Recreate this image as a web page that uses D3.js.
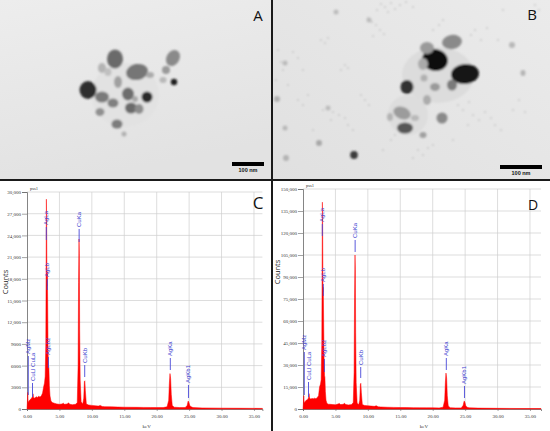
<!DOCTYPE html>
<html><head><meta charset="utf-8">
<script src="https://cdn.jsdelivr.net/npm/d3@7"></script>
<style>body{margin:0;background:#fff}svg{display:block}</style>
</head><body>
<script>
// ---------- DATA ----------
// EDS spectrum C: [keV, counts]
const spectrumC = [[0,0],[0.05,800],[0.12,2300],[0.18,900],[0.3,1100],[0.5,1300],[0.7,1500],[0.85,1700],[0.93,2100],[1.0,1600],[1.2,1500],[1.4,1700],[1.6,1600],[1.8,1750],[2.0,1650],[2.2,1800],[2.4,2200],[2.55,3000],[2.7,3600],[2.8,4500],[2.9,9000],[2.96,22000],[2.99,29000],[3.03,26000],[3.08,17000],[3.13,19000],[3.18,15500],[3.25,8000],[3.32,6000],[3.38,5600],[3.45,3200],[3.55,1800],[3.7,1100],[3.9,900],[4.2,800],[4.6,700],[5.0,650],[5.4,700],[5.6,800],[5.8,650],[6.2,700],[6.4,850],[6.6,650],[7.0,600],[7.5,650],[7.75,900],[7.88,6000],[7.95,17500],[8.02,23500],[8.07,21500],[8.12,11000],[8.2,4000],[8.35,1000],[8.6,700],[8.75,1500],[8.85,3800],[8.92,3900],[9.0,2500],[9.15,700],[9.5,550],[10,500],[10.5,450],[11,400],[11.3,500],[11.6,350],[12,320],[13,300],[14,270],[15,250],[16,240],[17,230],[18,220],[19,210],[20,200],[21,200],[21.6,300],[21.85,1200],[21.95,3500],[22.05,4900],[22.15,4200],[22.25,2000],[22.4,500],[22.7,250],[23.5,200],[24.4,200],[24.7,500],[24.85,1100],[24.95,950],[25.1,500],[25.3,300],[25.6,200],[27,150],[30,120],[33,100],[36.3,80]];
// EDS spectrum D: [keV, counts]
const spectrumD = [[0,0],[0.05,3000],[0.12,9000],[0.18,4000],[0.3,5000],[0.5,6000],[0.7,6500],[0.85,7500],[0.93,10500],[1.0,7500],[1.2,6800],[1.4,7200],[1.6,7000],[1.8,7400],[2.0,7000],[2.2,7800],[2.4,9000],[2.55,15000],[2.7,17000],[2.8,20000],[2.9,45000],[2.96,110000],[2.99,141000],[3.03,125000],[3.08,80000],[3.13,83000],[3.18,62000],[3.25,35000],[3.32,23000],[3.38,21500],[3.45,12000],[3.55,6000],[3.7,3800],[3.9,3300],[4.2,3200],[4.6,3000],[5.0,2900],[5.4,3400],[5.6,3800],[5.8,3000],[6.2,3200],[6.4,3900],[6.6,3000],[7.0,2800],[7.5,3000],[7.75,4500],[7.88,25000],[7.95,76000],[8.02,105000],[8.07,95000],[8.12,52000],[8.2,18000],[8.35,4000],[8.6,3000],[8.75,6000],[8.85,17000],[8.92,17500],[9.0,11000],[9.15,3000],[9.5,2400],[10,2200],[10.5,2000],[11,1800],[11.3,2200],[11.6,1500],[12,1400],[13,1200],[14,1100],[15,1000],[16,950],[17,900],[18,850],[19,800],[20,780],[21,760],[21.6,1200],[21.85,6000],[21.95,18000],[22.05,24500],[22.15,21000],[22.25,9000],[22.4,2000],[22.7,900],[23.5,750],[24.4,750],[24.7,2500],[24.85,5500],[24.95,4800],[25.1,2200],[25.3,1200],[25.6,800],[27,600],[30,450],[33,350],[36.7,300]];
// peak labels: [keV, name, marker low (counts), marker high (counts)]
const labelsC = [[0.2,"AgMz",1935,7330],[0.85,"CuLl CuLa",1660,3600],[2.98,"AgLa",23360,25160],[3.13,"AgLb",16450,17970],[3.3,"AgLb2",5670,7190],[8.04,"CuKa",23090,24890],[8.9,"CuKb",4420,6080],[22.1,"AgKa",5390,7050],[24.9,"AgKb1",1520,3320]];
const labelsD = [[0.2,"AgMz",9545,38860],[0.85,"CuLl CuLa",8180,18410],[2.98,"AgLa",117950,126140],[3.13,"AgLb",77050,85230],[3.3,"AgLb2",25230,34090],[8.04,"CuKa",107050,115230],[8.9,"CuKb",21140,28640],[22.1,"AgKa",26590,34770],[24.9,"AgKb1",7500,15680]];
const yTicksC = [0,3000,6000,9000,12000,15000,18000,21000,24000,27000,30000];
const yTicksD = [0,15000,30000,45000,60000,75000,90000,105000,120000,135000,150000];
const xTicks = [0,5,10,15,20,25,30,35];
// TEM micrographs: particles [x, y, rx, ry, rotation, grey] in micrograph units
const particlesA = [[125,95,34,32,0,"#e2e2e2"],[88,90,8.5,9,0,"#2e2e2e"],[115,59,8,9.5,0,"#6a6a6a"],[137,72,11,8,-10,"#767676"],[173,58,6.5,8.5,30,"#8a8a8a"],[166,70,4,4,0,"#999"],[174,82,3.2,3.2,0,"#1e1e1e"],[147,97,5.5,5.5,0,"#2a2a2a"],[102,97,7,5.5,0,"#7a7a7a"],[113,103,5.5,4.5,0,"#808080"],[128,94,6,6.5,0,"#6e6e6e"],[118,82,4,6,0,"#a0a0a0"],[131,108,6,5.5,0,"#6a6a6a"],[139,109,4.5,5,0,"#8c8c8c"],[100,112,4.5,4,0,"#909090"],[117,124,5.5,4.5,0,"#7c7c7c"],[124,134,2.5,2.5,0,"#b0b0b0"],[102,68,4,5,0,"#b4b4b4"],[163,80,3.5,3,0,"#b8b8b8"],[135,99,3,3,0,"#a8a8a8"],[108,72,3.5,4,0,"#c0c0c0"],[150,75,4,3,0,"#aaaaaa"]];
const particlesB = [[165,75,36,28,0,"#dcdcdc"],[135,115,20,20,0,"#dddddd"],[162,60,13,11,10,"#111"],[192,74,14,10,-5,"#141414"],[179,42,10,7,-10,"#8a8a8a"],[154,48,7,6,0,"#9a9a9a"],[150,64,5,6,0,"#aaaaaa"],[134,87,6.5,7,0,"#303030"],[129,113,9,6,20,"#9c9c9c"],[132,128,8,5.5,0,"#565656"],[169,118,5.5,5.5,0,"#8a8a8a"],[154,100,4,5,0,"#acacac"],[179,85,5,5.5,0,"#7a7a7a"],[162,87,5,4,0,"#9a9a9a"],[151,78,3.5,3.5,0,"#b0b0b0"],[81,155,3.8,4,0,"#3a3a3a"],[150,135,3.5,3,0,"#a0a0a0"],[250,73,2.5,3,0,"#b4b4b4"],[239,45,3,3,0,"#b8b8b8"],[117,117,3,4,0,"#b4b4b4"],[142,118,4,3,0,"#b8b8b8"],[46,143,3,3,0,"#a8a8a8"],[13,158,3,3,0,"#b4b4b4"],[4,99,3,3,0,"#b0b0b0"],[12,63,2.5,2.5,0,"#bababa"],[63,12,2.5,2.5,0,"#bcbcbc"],[96,20,2.5,2.5,0,"#bcbcbc"],[12,128,2.5,2.5,0,"#b8b8b8"],[55,108,2.5,2.5,0,"#bcbcbc"]];
const dotsB = [[108,4],[112,7],[118,3],[122,9],[127,5],[133,2],[115,12],[104,10],[140,7],[95,18],[99,22],[103,25],[107,30],[111,34],[100,36],[48,40],[52,43],[55,38],[20,52],[25,58],[5,50],[8,62],[10,70],[3,80],[15,85],[30,70],[72,65],[75,68],[68,70],[50,110],[60,112],[66,115],[72,118],[58,120],[75,125],[80,130],[40,130],[110,150],[118,140],[122,135],[145,150],[150,155],[155,148],[160,145],[140,158],[185,105],[190,110],[196,102],[200,115],[206,120],[212,112],[218,118],[222,125],[228,130],[195,125],[198,35],[202,30],[208,40],[214,28],[225,40],[230,10],[262,5],[266,10],[240,110],[246,100],[252,112],[180,140],[88,95],[92,100],[96,105],[25,100],[30,105],[35,95],[160,30],[166,25],[170,20]];

// ---------- DRAW ----------
const W = 550, H = 431;
const svg = d3.select("body").append("svg").attr("width", W).attr("height", H);
const defs = svg.append("defs");
defs.append("filter").attr("id","soft").attr("x","-50%").attr("y","-50%").attr("width","200%").attr("height","200%")
  .append("feGaussianBlur").attr("stdDeviation", 0.8);
const gA = defs.append("linearGradient").attr("id","bgA").attr("x1",0).attr("y1",0).attr("x2",0.3).attr("y2",1);
gA.append("stop").attr("offset","0%").attr("stop-color","#ededed");
gA.append("stop").attr("offset","100%").attr("stop-color","#e2e2e2");
const gB = defs.append("linearGradient").attr("id","bgB").attr("x1",1).attr("y1",0).attr("x2",0).attr("y2",1);
gB.append("stop").attr("offset","0%").attr("stop-color","#ebebeb");
gB.append("stop").attr("offset","100%").attr("stop-color","#e0e0e0");

svg.append("rect").attr("width",W).attr("height",H).attr("fill","#fff");

function micrograph(x0, y0, w, h, bg, parts, dots, bar, letter) {
  const sx = d3.scaleLinear().domain([0, w]).range([x0, x0 + w]);
  const sy = d3.scaleLinear().domain([0, h]).range([y0, y0 + h]);
  const g = svg.append("g");
  g.append("rect").attr("x", x0).attr("y", y0).attr("width", w).attr("height", h).attr("fill", bg);
  const pg = g.append("g").attr("filter","url(#soft)");
  if (dots) pg.selectAll("circle.d").data(dots).join("circle")
    .attr("cx", d => sx(d[0])).attr("cy", d => sy(d[1])).attr("r", 0.9).attr("fill", "#c4c4c4");
  pg.selectAll("ellipse").data(parts).join("ellipse")
    .attr("cx", d => sx(d[0])).attr("cy", d => sy(d[1]))
    .attr("rx", d => d[2]).attr("ry", d => d[3])
    .attr("transform", d => `rotate(${d[4]},${sx(d[0])},${sy(d[1])})`)
    .attr("fill", d => d[5]);
  // scale bar
  g.append("rect").attr("x", x0 + bar[0]).attr("y", y0 + bar[1]).attr("width", bar[2]).attr("height", 4).attr("fill", "#000");
  g.append("text").attr("x", x0 + bar[0] + bar[2] / 2).attr("y", y0 + bar[1] + 10)
    .attr("text-anchor","middle").attr("font-family","Liberation Sans, Arial, sans-serif")
    .attr("font-size", 5.5).attr("font-weight","bold").attr("fill","#111").text("100 nm");
  g.append("text").attr("x", letter[1]).attr("y", letter[2]).attr("text-anchor","middle")
    .attr("font-family","Open Sans, Liberation Sans, sans-serif").attr("font-size", 15).attr("fill","#111").text(letter[0]);
}
micrograph(0, 0, 271, 179, "url(#bgA)", particlesA, null, [232, 162, 32], ["A", 258, 21]);
micrograph(273, 0, 277, 179, "url(#bgB)", particlesB, dotsB, [227, 165, 42], ["B", 532, 20]);

function yFmt(v) { return v < 10000 ? String(v) : d3.format(",")(v); }

function spectrum(cfg) {
  const x = d3.scaleLinear().domain([0, cfg.xMax]).range([cfg.left, cfg.right]);
  const y = d3.scaleLinear().domain([0, cfg.yMax]).range([409, cfg.top]);
  const g = svg.append("g");
  // grid
  g.selectAll("line.hg").data(cfg.yTicks).join("line")
    .attr("x1", cfg.left).attr("x2", cfg.right).attr("y1", d => y(d)).attr("y2", d => y(d))
    .attr("stroke", "#cfcfcf").attr("stroke-width", 0.7);
  g.selectAll("line.vg").data(xTicks.slice(1)).join("line")
    .attr("x1", d => x(d)).attr("x2", d => x(d)).attr("y1", cfg.top).attr("y2", 409)
    .attr("stroke", "#cfcfcf").attr("stroke-width", 0.7);
  // axes
  const ya = g.append("g").attr("transform", `translate(${cfg.left},0)`)
    .call(d3.axisLeft(y).tickValues(cfg.yTicks).tickFormat(yFmt).tickSize(5).tickPadding(1));
  const xa = g.append("g").attr("transform", `translate(0,409)`)
    .call(d3.axisBottom(x).tickValues(xTicks).tickFormat(d3.format(".2f")).tickSize(2).tickPadding(3));
  [ya, xa].forEach(a => {
    a.select(".domain").attr("stroke", "#666").attr("stroke-width", 0.8);
    a.selectAll(".tick line").attr("stroke", "#666").attr("stroke-width", 0.6);
    a.selectAll(".tick text").attr("font-family", "Liberation Serif, serif").attr("font-size", 5).attr("fill", "#333");
  });
  // spectrum area
  const area = d3.area().x(d => x(d[0])).y0(409).y1(d => y(d[1])).curve(d3.curveLinear);
  g.append("path").datum(cfg.data).attr("d", area).attr("fill", "#ff0000").attr("stroke", "#ff0000").attr("stroke-width", 0.5);
  // peak labels
  const lg = g.append("g");
  lg.selectAll("line").data(cfg.labels).join("line")
    .attr("x1", d => x(d[0])).attr("x2", d => x(d[0])).attr("y1", d => y(d[2])).attr("y2", d => y(d[3]))
    .attr("stroke", "#4848d8").attr("stroke-width", 0.9);
  lg.selectAll("text").data(cfg.labels).join("text")
    .attr("transform", d => `translate(${x(d[0]) + 2},${y(d[3]) - 2}) rotate(-90)`)
    .attr("font-family", "Liberation Sans, Arial, sans-serif").attr("font-size", 6).attr("fill", "#4040d0")
    .text(d => d[1]);
  // titles
  g.append("text").attr("x", cfg.left + 3).attr("y", cfg.top - 2).attr("font-family", "Liberation Serif, serif")
    .attr("font-size", 4.5).attr("fill", "#333").text("pss1");
  g.append("text").attr("x", (cfg.left + cfg.right) / 2 + 2).attr("y", 428).attr("text-anchor", "middle")
    .attr("font-family", "Liberation Serif, serif").attr("font-size", 5).attr("fill", "#333").text("keV");
  g.append("text").attr("transform", `translate(${cfg.countsX},${cfg.countsY}) rotate(-90)`).attr("text-anchor", "middle")
    .attr("font-family", "Open Sans, Liberation Sans, sans-serif").attr("font-size", 7.5).attr("fill", "#222").text("Counts");
  g.append("text").attr("x", cfg.letter[1]).attr("y", cfg.letter[2]).attr("text-anchor", "middle")
    .attr("font-family", "Open Sans, Liberation Sans, sans-serif").attr("font-size", cfg.letter[3]).attr("fill", "#111").text(cfg.letter[0]);
}
spectrum({ data: spectrumC, labels: labelsC, yTicks: yTicksC, yMax: 30000, xMax: 36.3, left: 27, right: 262.4, top: 192,
  countsX: 8, countsY: 282, letter: ["C", 258, 209, 17] });
spectrum({ data: spectrumD, labels: labelsD, yTicks: yTicksD, yMax: 150000, xMax: 36.7, left: 303, right: 541, top: 189,
  countsX: 280, countsY: 272, letter: ["D", 533, 210, 14] });

// panel dividers
svg.append("rect").attr("x", 0).attr("y", 179).attr("width", W).attr("height", 2).attr("fill", "#1a1a1a");
svg.append("rect").attr("x", 271).attr("y", 0).attr("width", 2).attr("height", H).attr("fill", "#1a1a1a");
</script>
</body></html>
